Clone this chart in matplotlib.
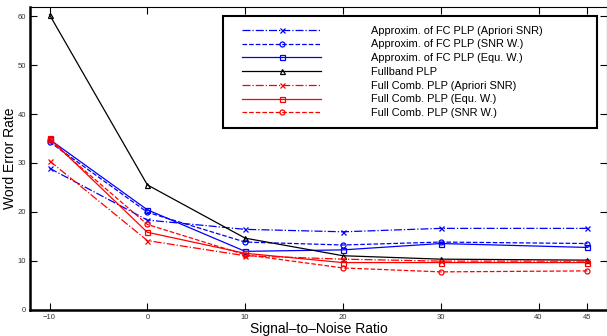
import matplotlib.pyplot as plt
from matplotlib.lines import Line2D
from matplotlib.legend_handler import HandlerLine2D
import numpy as np

plt.rcParams['font.family'] = ['Liberation Sans', 'DejaVu Sans']

snr = [-10, 0, 10, 20, 30, 45]

approx_apriori = [28.9, 18.3, 16.4, 15.9, 16.6, 16.6]
approx_snrw    = [34.3, 19.9, 13.8, 13.2, 13.8, 13.5]
approx_equw    = [34.8, 20.4, 11.9, 12.2, 13.5, 12.7]
fullband       = [60.3, 25.5, 14.6, 11.0, 10.3, 10.1]
comb_apriori   = [30.4, 14.1, 11.0, 10.3, 9.9, 9.9]
comb_equw      = [35.0, 15.8, 11.5, 9.6, 9.6, 9.6]
comb_snrw      = [34.6, 17.4, 11.2, 8.5, 7.7, 7.9]

labels = ['Approxim. of FC PLP (Apriori SNR)',
          'Approxim. of FC PLP (SNR W.)',
          'Approxim. of FC PLP (Equ. W.)',
          'Fullband PLP',
          'Full Comb. PLP (Apriori SNR)',
          'Full Comb. PLP (Equ. W.)',
          'Full Comb. PLP (SNR W.)']

xticks = [-10, 0, 10, 20, 30, 40, 45]
yticks = [0, 10, 20, 30, 40, 50, 60]

fig = plt.figure(figsize=(6.07, 3.36), dpi=100)
ax = fig.add_axes([30/607, 1 - 309.5/336, 577/607, 303/336])

series = [
    (approx_apriori, 'b', '-.', 'x'),
    (approx_snrw,    'b', '--', 'o'),
    (approx_equw,    'b', '-',  's'),
    (fullband,       'k', '-',  '^'),
    (comb_apriori,   'r', '-.', 'x'),
    (comb_equw,      'r', '-',  's'),
    (comb_snrw,      'r', '--', 'o'),
]
for (vals, c, ls, m), lab in zip(series, labels):
    ax.plot(snr, vals, color=c, linestyle=ls, marker=m, markersize=3.6,
            markerfacecolor='none', markeredgewidth=0.9, linewidth=0.9,
            label=lab)

ax.set_xlim(-12, 47)
ax.set_ylim(0, 62)
ax.set_xticks(xticks)
ax.set_yticks(yticks)
ax.tick_params(direction='in', top=True, right=True, length=5, width=0.8,
               labelsize=5.5, labelcolor='#333333', pad=3)
for s in ['left', 'bottom']:
    ax.spines[s].set_linewidth(1.8)
for s in ['top', 'right']:
    ax.spines[s].set_linewidth(0.8)

ax.set_ylabel('Word Error Rate', fontsize=10, labelpad=0)
ax.set_xlabel('Signal\u2013to\u2013Noise Ratio', fontsize=10, labelpad=1)

leg = ax.legend(loc='upper left', bbox_to_anchor=(0.334, 0.969, 0.649, 0.0),
                mode='expand', fontsize=7.9, handlelength=8.1,
                handletextpad=4.5, labelspacing=0.34, numpoints=1,
                fancybox=False, framealpha=1, borderaxespad=0,
                borderpad=0.9,
                handler_map={Line2D: HandlerLine2D(xpad=0.9)})
leg.get_frame().set_edgecolor('black')
leg.get_frame().set_linewidth(1.5)

fig.savefig('out.png', dpi=100)
